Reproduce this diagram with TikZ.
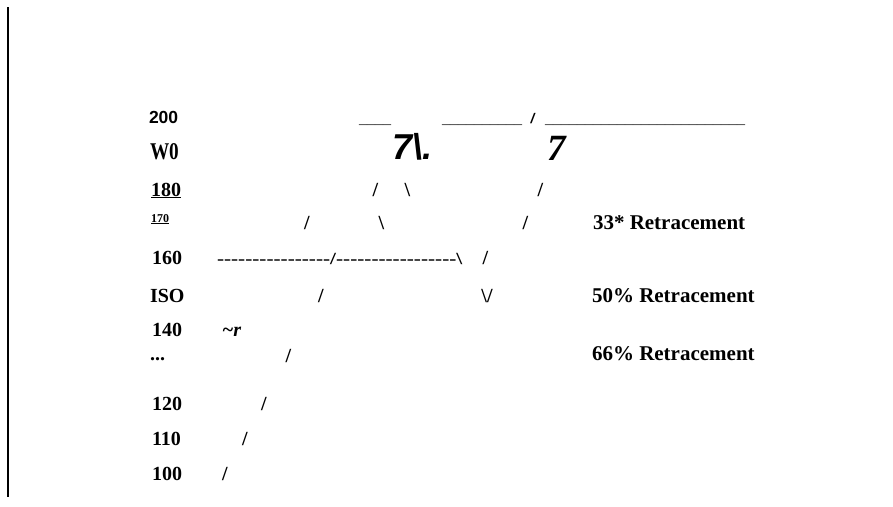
\documentclass[tikz,border=0pt]{standalone}
\usepackage{fontspec}
\setmainfont{Liberation Serif}
\newfontfamily\sansfam{Liberation Sans}
\newfontfamily\plainserif{Liberation Serif}[Ligatures=TeXOff]
\tikzset{
  every node/.style={inner sep=0pt, outer sep=0pt},
  lbl/.style={anchor=base west, font=\fontsize{20}{24}\selectfont\bfseries},
  sl/.style={anchor=base, font=\fontsize{20}{24}\selectfont\bfseries},
  rtr/.style={anchor=base west, font=\fontsize{21}{25}\selectfont\bfseries},
  usc/.style={anchor=base west, font=\fontsize{16}{19}\selectfont, text=black!85},
  axisline/.style={line width=1.5pt, black},
}
\begin{document}
\begin{tikzpicture}[x=1pt,y=-1pt]
\useasboundingbox (0,0) rectangle (893,506);
% left vertical rule
\coordinate (vtop) at (8,7);
\coordinate (vbot) at (8,497);
\draw[axisline] (vtop) -- (vbot);
% left labels
\node[anchor=base west, font=\sansfam\fontsize{17.5}{20}\selectfont\bfseries] (l200) at (149,123) {200};
\node[anchor=base west, font=\fontsize{24}{28}\selectfont\bfseries, xscale=0.8] (lW0) at (150,159) {W0};
\node[lbl] (l180) at (151,196) {\underline{180}};
\node[anchor=base west, font=\fontsize{12}{14}\selectfont\bfseries] (l170) at (151,222) {\underline{170}};
\node[lbl] (l160) at (152,264) {160};
\node[lbl] (lISO) at (150,302) {ISO};
\node[lbl] (l140) at (152,336) {140};
\node[lbl] (ldots) at (150,360) {...};
\node[lbl] (l120) at (152,410) {120};
\node[lbl] (l110) at (152,445) {110};
\node[lbl] (l100) at (152,480) {100};
% top row
\node[usc] (u1) at (359,123) {\_\_\_\_};
\node[usc] (u2) at (442,123) {\_\_\_\_\_\_\_\_\_\_};
\node[usc] (u3) at (545,123) {\_\_\_\_\_\_\_\_\_\_\_\_\_\_\_\_\_\_\_\_\_\_\_\_\_};
\node[anchor=base, font=\sansfam\fontsize{14}{16}\selectfont\bfseries\itshape] (tsl) at (532.5,123) {/};
% big sevens
\node[anchor=base west, font=\sansfam\fontsize{36}{40}\selectfont\bfseries\itshape] (p1) at (392,159) {7\textbackslash.};
\node[anchor=base west, font=\fontsize{37}{40}\selectfont\bfseries\itshape] (p2) at (547,160) {7};
% row 180
\node[sl] (s180a) at (375.5,196) {/};
\node[sl] (s180b) at (407.5,196) {\textbackslash};
\node[sl] (s180c) at (540.5,196) {/};
% row 170
\node[sl] (s170a) at (307,229) {/};
\node[sl] (s170b) at (381.5,229) {\textbackslash};
\node[sl] (s170c) at (525.5,229) {/};
\node[rtr] (r33) at (593,229) {33* Retracement};
% row 160
\node[anchor=base west, font=\plainserif\fontsize{17}{20}\selectfont\bfseries, xscale=1.25] (dash) at (217,264) {----------------/-----------------\textbackslash};
\node[sl] (s160) at (485.5,264) {/};
% row ISO
\node[sl] (sISOa) at (321,302) {/};
\node[sl] (sISOb) at (487,302) {\textbackslash/};
\node[rtr] (r50) at (592,302) {50\% Retracement};
% row 140
\node[anchor=base west, font=\fontsize{20}{24}\selectfont\bfseries\itshape] (tr) at (222,336) {\textasciitilde r};
% row ...
\node[sl] (sdots) at (288.5,362) {/};
\node[rtr] (r66) at (592,360) {66\% Retracement};
% lower rows
\node[sl] (s120) at (264,410) {/};
\node[sl] (s110) at (245,445) {/};
\node[sl] (s100) at (225,480) {/};
\end{tikzpicture}
\end{document}
